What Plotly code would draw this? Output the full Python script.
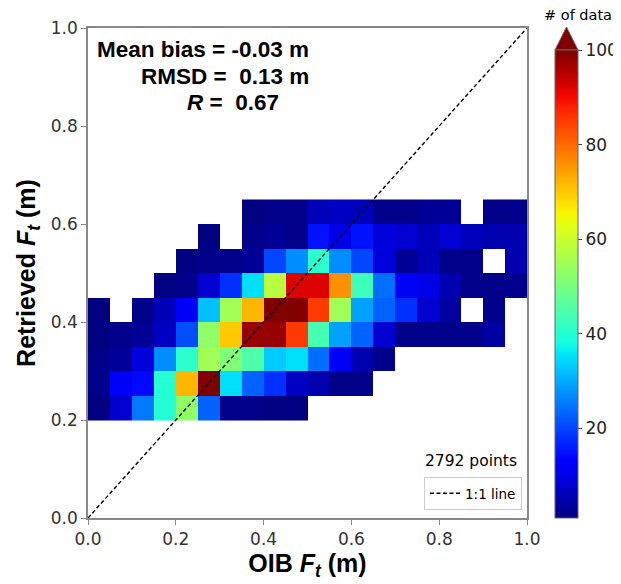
import numpy as np
import plotly.graph_objects as go

# ---- data ----
x_edges = [round(0.05 * i, 2) for i in range(21)]          # OIB Ft bin edges (m)
y_edges = [round(0.20 + 0.05 * i, 2) for i in range(10)]   # Retrieved Ft bin edges (m)
N = None
counts = [
    # 0.20-0.25
    [1, 8, 25, 40, 53, 23, 2, 2, 1, 1, N, N, N, N, N, N, N, N, N, N],
    # 0.25-0.30
    [2, 12, 14, 40, 72, 110, 35, 23, 18, 7, 5, 2, 2, N, N, N, N, N, N, N],
    # 0.30-0.35
    [2, 3, 9, 27, 41, 55, 51, 45, 33, 35, 24, 12, 5, 2, N, N, N, N, N, N],
    # 0.35-0.40
    [1, 2, 3, 7, 21, 53, 70, 98, 98, 85, 44, 29, 23, 8, 2, 2, 2, 2, 4, N],
    # 0.40-0.45
    [1, N, 2, 6, 12, 32, 55, 72, 110, 110, 85, 55, 29, 23, 18, 8, 4, N, 2, N],
    # 0.45-0.50
    [N, N, N, 1, 2, 8, 18, 35, 58, 92, 92, 76, 43, 24, 12, 10, 5, 2, 2, 2],
    # 0.50-0.55
    [N, N, N, N, 1, 2, 2, 3, 20, 27, 41, 27, 20, 9, 3, 6, 2, 2, N, 5],
    # 0.55-0.60
    [N, N, N, N, N, 1, N, 2, 3, 2, 15, 10, 15, 9, 8, 6, 8, 6, 5, 5],
    # 0.60-0.65
    [N, N, N, N, N, N, N, 1, 2, 2, 6, 7, 6, 2, 2, 3, 3, N, 2, 2],
]
cbar_ticks = [20, 40, 60, 80, 100]
axis_ticks = [0.0, 0.2, 0.4, 0.6, 0.8, 1.0]
line_11 = [0.0, 1.0]
stats_lines = ["Mean bias = -0.03 m", "RMSD =  0.13 m", "<i>R</i> =  0.67"]
n_points_text = "2792 points"

# ---- matplotlib-like jet colorscale ----
def jet(t):
    r = np.interp(t, [0, 0.35, 0.66, 0.89, 1], [0, 0, 1, 1, 0.5])
    g = np.interp(t, [0, 0.125, 0.375, 0.64, 0.91, 1], [0, 0, 1, 1, 0, 0])
    b = np.interp(t, [0, 0.11, 0.34, 0.65, 1], [0.5, 1, 1, 0, 0])
    return "rgb(%d,%d,%d)" % (round(r * 255), round(g * 255), round(b * 255))

ts = np.linspace(0, 1, 41)
jet_scale = [[float(t), jet(t)] for t in ts]

BOLD = "Liberation Sans, Arial, sans-serif"
REG = "DejaVu Sans, sans-serif"

# page body has an 8px margin: the figure starts at (8, 8) in the window
OFF = 8
W, H = 621 - OFF, 584 - OFF
PL, PT, PR, PB = 88, 28, 527, 518          # plot area in window pixels
L, T = PL - OFF, PT - OFF
pw, ph = PR - PL, PB - PT
R, B = W - L - pw, H - T - ph

def px_x(p):
    return (p - PL) / pw

def px_y(p):
    return (PB - p) / ph

fig = go.Figure()
fig.add_trace(go.Heatmap(
    x=x_edges, y=y_edges, z=counts,
    zmin=1, zmax=100, colorscale=jet_scale,
    hoverongaps=False, showscale=True,
    colorbar=dict(
        x=px_x(555), xanchor="left", xpad=0,
        y=0, yanchor="bottom", ypad=0,
        len=(PB - 50) / ph, lenmode="fraction",
        thickness=23, thicknessmode="pixels",
        tickvals=cbar_ticks, ticks="outside", ticklen=4, tickcolor="#444",
        tickfont=dict(family=REG, size=17, color="#222"),
        outlinewidth=1, outlinecolor="#666",
    ),
    showlegend=False,
))
fig.add_trace(go.Scatter(
    x=line_11, y=line_11, mode="lines", name="1:1 line",
    line=dict(color="black", width=1.4, dash="4px,2.5px"),
))

# extend-max triangle above colorbar
x0, x1 = px_x(555), px_x(578)
xm = (x0 + x1) / 2
yb, yt = px_y(50), px_y(27)
fig.add_shape(type="path", xref="paper", yref="paper",
              path=f"M {x0} {yb} L {x1} {yb} L {xm} {yt} Z",
              fillcolor=jet(1.0), line=dict(color="#666", width=1))

stat_pos = [(311, 50), (311, 77), (281, 103)]
for txt, (xx, yy) in zip(stats_lines, stat_pos):
    fig.add_annotation(text=f"<b>{txt}</b>", xref="paper", yref="paper",
                       x=px_x(xx), y=px_y(yy), xanchor="right", yanchor="middle",
                       showarrow=False, font=dict(family=BOLD, size=22.5, color="black"))

fig.add_annotation(text=n_points_text, xref="paper", yref="paper",
                   x=px_x(519), y=px_y(461), xanchor="right", yanchor="middle",
                   showarrow=False, font=dict(family=REG, size=15.5, color="black"))
fig.add_annotation(text="# of data", xref="paper", yref="paper",
                   x=px_x(578), y=px_y(15), xanchor="center", yanchor="middle",
                   showarrow=False, font=dict(family=REG, size=14.5, color="black"))

axis_common = dict(
    range=[0, 1], tickvals=axis_ticks, tickformat=".1f",
    showline=True, mirror=True, linecolor="#888", linewidth=1.5,
    ticks="outside", ticklen=5, tickcolor="#888",
    tickfont=dict(family=REG, size=17, color="#333"),
    showgrid=False, zeroline=False,
)
fig.update_xaxes(**axis_common,
                 title=dict(text="<b>OIB <i>F<sub>t</sub></i> (m)</b>", standoff=6,
                            font=dict(family=BOLD, size=25, color="black")))
fig.update_yaxes(**axis_common,
                 title=dict(text="<b>Retrieved <i>F<sub>t</sub></i> (m)</b>", standoff=8,
                            font=dict(family=BOLD, size=25, color="black")))

fig.update_layout(
    width=W, height=H,
    margin=dict(l=L, r=R, t=T, b=B, autoexpand=False),
    paper_bgcolor="white", plot_bgcolor="white",
    showlegend=True,
    legend=dict(x=px_x(522), xanchor="right", y=px_y(510), yanchor="bottom",
                bgcolor="white", bordercolor="#ccc", borderwidth=1,
                font=dict(family=REG, size=13.5, color="black")),
)

fig.write_html("out.html")
